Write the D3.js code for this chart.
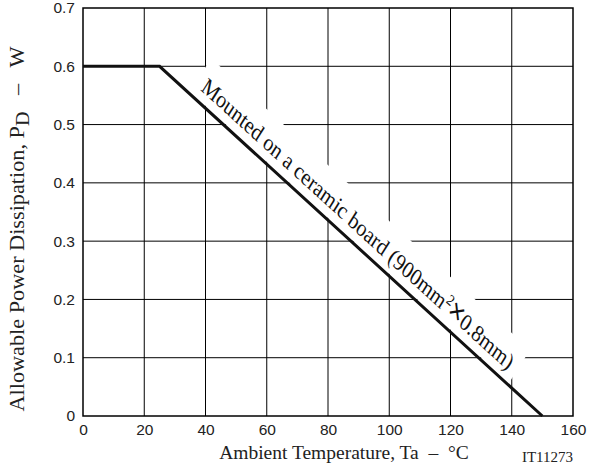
<!DOCTYPE html>
<html>
  <head>
    <meta charset="utf-8">
    <title>Allowable Power Dissipation</title>
    <style>
      body { margin: 0; background: #fff; }
    </style>
  </head>
  <body>
    <div id="container"></div>
    <script src="https://cdn.jsdelivr.net/npm/d3@7"></script>
    <script>

      // DATA
      var tempTicks = [0, 20, 40, 60, 80, 100, 120, 140, 160];
      var powerTicks = [0, 0.1, 0.2, 0.3, 0.4, 0.5, 0.6, 0.7];
      var powerTickLabels = ["0", "0.1", "0.2", "0.3", "0.4", "0.5", "0.6", "0.7"];
      var deratingTemp = [0, 25, 150];
      var deratingPower = [0.6, 0.6, 0];

      // DIMENSIONS
      var W = 589, H = 466;
      var margin = { top: 8, right: 16, bottom: 50, left: 83 };
      var serif = "'Liberation Serif', 'Times New Roman', serif";
      var sans = "'Liberation Sans', Arial, sans-serif";
      var vStretch = 1.2; // the scan is a bit taller than wide

      var svg = d3.select("#container")
        .append("svg")
        .attr("width", W)
        .attr("height", H);

      var x = d3.scaleLinear()
        .domain([0, 160])
        .range([margin.left, W - margin.right]);
      var y = d3.scaleLinear()
        .domain([0, 0.7])
        .range([H - margin.bottom, margin.top]);

      // GRID
      var grid = svg.append("g")
        .attr("stroke", "#000")
        .attr("stroke-width", 1);
      grid.selectAll(".vx")
        .data(tempTicks.slice(1, -1))
        .enter().append("line")
        .attr("x1", d => x(d)).attr("x2", d => x(d))
        .attr("y1", y(0)).attr("y2", y(0.7));
      grid.selectAll(".hy")
        .data(powerTicks.slice(1, -1))
        .enter().append("line")
        .attr("x1", x(0)).attr("x2", x(160))
        .attr("y1", d => y(d)).attr("y2", d => y(d));

      // ANNOTATION (white band behind it breaks the grid)
      var data = deratingTemp.map((t, i) => ({ t: t, p: deratingPower[i] }));
      var ang = Math.atan2(y(0) - y(0.6), x(150) - x(25));
      var localAng = Math.atan(Math.tan(ang) / vStretch) * 180 / Math.PI;
      var t0 = 36, off = 10;
      var px = x(t0) + off * Math.sin(ang);
      var py = y(0.6 - (t0 - 25) * 0.6 / 125) - off * Math.cos(ang);

      var note = svg.append("g")
        .attr("transform", "translate(" + px + "," + py + ") scale(1," + vStretch + ") rotate(" + localAng + ")");
      var bg = note.append("rect").attr("fill", "#fff");
      var label = note.append("text")
        .attr("font-family", serif)
        .attr("font-size", 20)
        .attr("fill", "#111");
      label.append("tspan").text("Mounted on a ceramic board (900mm");
      label.append("tspan").attr("font-size", 13).attr("dy", -8).text("2");
      label.append("tspan").attr("font-size", 26).attr("dy", 8).attr("font-family", sans).text("\u00d7");
      label.append("tspan").text("0.8mm)");
      var bb = label.node().getBBox();
      bg.attr("x", bb.x - 7).attr("y", bb.y - 4)
        .attr("width", bb.width + 14).attr("height", bb.height + 6);

      // FRAME
      svg.append("rect")
        .attr("x", x(0)).attr("y", y(0.7))
        .attr("width", x(160) - x(0)).attr("height", y(0) - y(0.7))
        .attr("fill", "none")
        .attr("stroke", "#000")
        .attr("stroke-width", 1.5);

      // DERATING CURVE
      svg.append("path")
        .datum(data)
        .attr("fill", "none")
        .attr("stroke", "#111")
        .attr("stroke-width", 3)
        .attr("d", d3.line().x(d => x(d.t)).y(d => y(d.p)));

      // AXES (labels only)
      var xAxis = svg.append("g")
        .attr("transform", "translate(0," + y(0) + ")")
        .call(d3.axisBottom(x).tickValues(tempTicks).tickSize(0).tickPadding(8));
      var yAxis = svg.append("g")
        .attr("transform", "translate(" + x(0) + ",0)")
        .call(d3.axisLeft(y).tickValues(powerTicks).tickSize(0).tickPadding(8)
          .tickFormat((d, i) => powerTickLabels[i]));
      svg.selectAll(".domain").remove();
      svg.selectAll(".tick text")
        .attr("font-family", sans)
        .attr("font-size", 15.5)
        .attr("fill", "#222");

      // AXIS TITLES
      svg.append("text")
        .attr("x", 344).attr("y", 459)
        .attr("text-anchor", "middle")
        .attr("font-family", serif)
        .attr("font-size", 19.5)
        .attr("fill", "#222")
        .attr("xml:space", "preserve")
        .text("Ambient Temperature, Ta  \u2013  \u00b0C");

      svg.append("text")
        .attr("x", 573).attr("y", 462)
        .attr("text-anchor", "end")
        .attr("font-family", serif)
        .attr("font-size", 15)
        .attr("fill", "#222")
        .text("IT11273");

      var yt = svg.append("text")
        .attr("transform", "translate(24,229) rotate(-90)")
        .attr("text-anchor", "middle")
        .attr("font-family", serif)
        .attr("font-size", 20)
        .attr("fill", "#222")
        .attr("xml:space", "preserve");
      yt.append("tspan").text("Allowable Power Dissipation, P");
      yt.append("tspan").attr("dy", 5).attr("font-size", 18).text("D");
      yt.append("tspan").attr("dy", -5).text("   \u2013   W");
      yt.attr("textLength", 365).attr("lengthAdjust", "spacingAndGlyphs");

    </script>
  </body>
</html>
